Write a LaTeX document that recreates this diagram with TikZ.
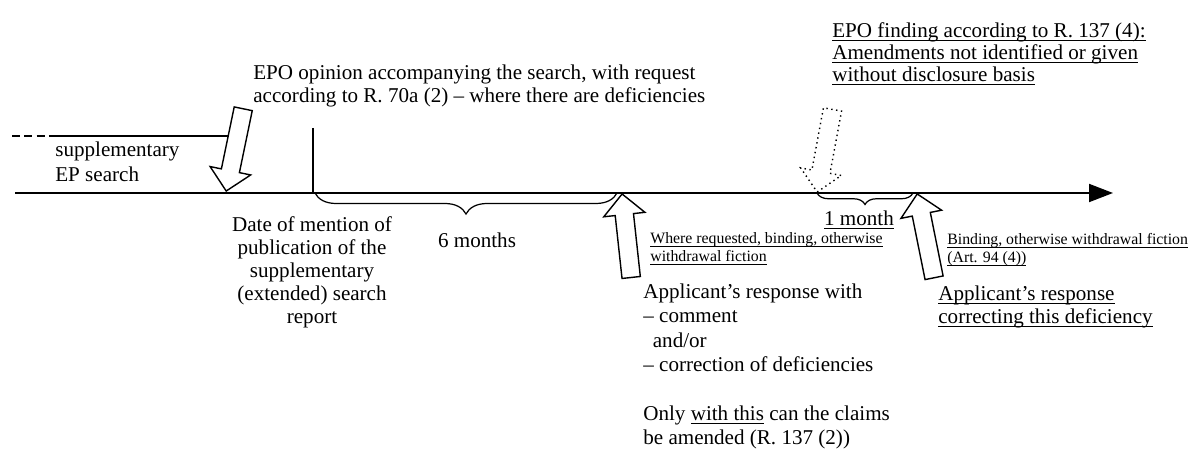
\documentclass[tikz,border=0pt]{standalone}
\usepackage{fontspec}
\setmainfont{Liberation Serif}
\usetikzlibrary{arrows.meta,shapes.arrows,decorations.pathreplacing}

\newsavebox\ulnbox
\newcommand\uln[1]{\sbox\ulnbox{#1}\rlap{\usebox\ulnbox}\rule[-2.1pt]{\wd\ulnbox}{0.6pt}}

\begin{document}
\begin{tikzpicture}[
  x=0.02cm, y=0.02cm,
  txt/.style={inner sep=0pt, align=left, font=\fontsize{12}{12.8}\selectfont},
  note/.style={inner sep=0pt, align=left, font=\fontsize{9}{10.3}\selectfont},
  blockarrow/.style={single arrow, draw, fill=white, line width=0.8pt,
                     inner xsep=0pt, inner ysep=0.17cm,
                     single arrow head extend=0.23cm,
                     minimum height=#1, anchor=tip},
  blockarrow/.default=1.68cm,
  axis/.style={line width=1.1pt},
  period/.style={decorate, decoration={brace, mirror, amplitude=#1}, line width=0.7pt}
]
\useasboundingbox (0,0) rectangle (1200,450);

% time axis
\coordinate (start) at (15,257);
\coordinate (end)   at (1113,257);
\draw[axis, -{Triangle[length=0.48cm, width=0.36cm]}] (start) -- (end);

% supplementary search period
\coordinate (boxdash) at (12,314);
\coordinate (boxtop)  at (50,314);
\coordinate (boxend)  at (236,314);
\draw[axis, dash pattern=on 4.5pt off 2.5pt] (boxdash) -- (boxtop);
\draw[axis] (boxtop) -- (boxend);
\node[txt, anchor=west, font=\fontsize{12}{14}\selectfont] (suppl) at (55,288) {supplementary\\EP search};

% publication date
\coordinate (pub)    at (313,257);
\coordinate (pubtop) at (313,322);
\draw[axis] (pubtop) -- (pub);

% arrows onto the time axis
\node[blockarrow, rotate=258.3] (search) at (226,258) {};
\node[blockarrow, rotate=96.2] (reply) at (622,257) {};
\node[blockarrow, rotate=259.5, dotted] (finding) at (817,257) {};
\node[blockarrow=1.71cm, rotate=101.4] (correct) at (917,257) {};

% periods
\coordinate (sixa) at (315,257);
\coordinate (sixb) at (617,257);
\draw[period=0.42cm] (sixa) -- (sixb);
\coordinate (onea) at (817,257);
\coordinate (oneb) at (913,257);
\draw[period=0.23cm] (onea) -- (oneb);

% texts
\node[txt, anchor=west] (opinion) at (253,364)
  {EPO opinion accompanying the search, with request\\according to R. 70a (2) -- where there are deficiencies};
\node[txt, align=center, font=\fontsize{12}{13}\selectfont] (date) at (312,177.5)
  {Date of mention of\\publication of the\\supplementary\\(extended) search\\report};
\node[txt] (six) at (477,210) {6 months};
\node[note, anchor=west] (binding) at (650,201)
  {\uln{Where requested, binding, otherwise}\\\uln{withdrawal fiction}};
\node[txt, anchor=west, font=\fontsize{12}{13.9}\selectfont] (response) at (643,83.5)
  {Applicant’s response with\\-- comment\\\hspace*{0.45em}and/or\\-- correction of deficiencies\\[13.9pt]%
   Only \uln{with this} can the claims\\be amended (R. 137 (2))};
\node[txt] (month) at (859,230) {\uln{1 month}};
\node[txt, anchor=west, font=\fontsize{12}{12.6}\selectfont] (epo) at (832,396)
  {\uln{EPO finding according to R. 137 (4):}\\\uln{Amendments not identified or given}\\\uln{without disclosure basis}};
\node[note, anchor=west] (art) at (947,200)
  {\uln{Binding, otherwise withdrawal fiction}\\\uln{(Art. 94 (4))}};
\node[txt, anchor=west] (deficiency) at (938,143)
  {\uln{Applicant’s response}\\\uln{correcting this deficiency}};
\end{tikzpicture}
\end{document}
